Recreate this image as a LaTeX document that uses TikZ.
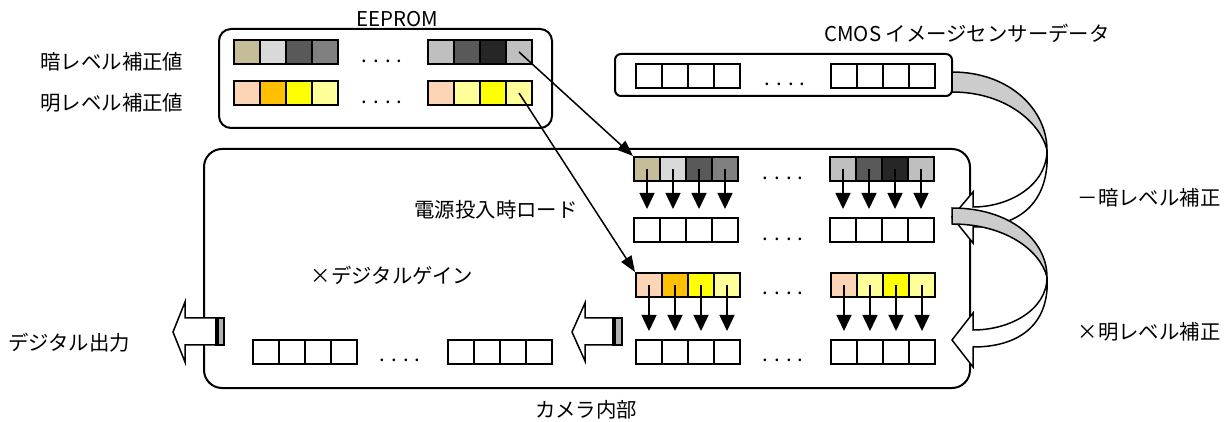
\documentclass[tikz,border=0pt]{standalone}
\usepackage{fontspec}
\setmainfont{Noto Sans CJK JP}
\usetikzlibrary{arrows.meta}
\definecolor{tanC}{HTML}{C4BD97}
\definecolor{ltgrayC}{HTML}{D9D9D9}
\definecolor{dkgrayC}{HTML}{595959}
\definecolor{mdgrayC}{HTML}{808080}
\definecolor{sgrayC}{HTML}{BFBFBF}
\definecolor{blkgrayC}{HTML}{262626}
\definecolor{peachC}{HTML}{FBD5B5}
\definecolor{orangeC}{HTML}{FFC000}
\definecolor{yellowC}{HTML}{FFFF00}
\definecolor{lyellowC}{HTML}{FFFF99}
\definecolor{bandC}{HTML}{CCCCCC}
\newcommand{\cellrow}[4]{%
  \foreach \c [count=\i] in {#4}
    \node[cell,fill=\c] (#1\i) at ({#2+26*(\i-1)},#3) {};}
\begin{document}
\begin{tikzpicture}[x=0.5pt,y=-0.5pt,
  cell/.style={draw,line width=1pt,minimum width=13pt,minimum height=12pt,inner sep=0pt,anchor=north west},
  box/.style={draw,line width=1pt},
  lbl/.style={inner sep=0pt,font=\fontsize{10.2pt}{12pt}\selectfont},
  dots/.style={inner sep=0pt,anchor=base,font=\fontsize{10.2pt}{12pt}\selectfont},
  dnarrow/.style={-{Triangle[width=7.5pt,length=8pt]},line width=0.75pt,shorten >=4pt},
  ldarrow/.style={-{Triangle[width=6pt,length=8pt]},line width=0.75pt},
  blockarr/.style={draw,fill=white,line width=0.75pt},
  bandarr/.style={draw,line width=0.75pt}]
\useasboundingbox (0,0) rectangle (1232,422);
\draw[box,rounded corners=9pt] (204,149) rectangle (970,388);
\draw[box,rounded corners=6pt] (219,29) rectangle (552,128);
\draw[box,rounded corners=3pt] (615,54) rectangle (952,96);
\node[lbl] (eeprom) at (397,19) {EEPROM};
\node[lbl] (cmos) at (967,33) {CMOS イメージセンサーデータ};
\node[lbl] (darkval) at (112,62) {暗レベル補正値};
\node[lbl] (brightval) at (112,103) {明レベル補正値};
\node[lbl] (load) at (496,210) {電源投入時ロード};
\node[lbl] (gain) at (392,275) {×デジタルゲイン};
\node[lbl] (output) at (69,343) {デジタル出力};
\node[lbl] (camera) at (586,410) {カメラ内部};
\node[lbl] (darkcorr) at (1149,198) {－暗レベル補正};
\node[lbl] (brightcorr) at (1149,332) {×明レベル補正};
\cellrow{eda}{233}{39}{tanC,ltgrayC,dkgrayC,mdgrayC}
\cellrow{edb}{427}{39}{sgrayC,dkgrayC,blkgrayC,sgrayC}
\cellrow{eba}{233}{80}{peachC,orangeC,yellowC,lyellowC}
\cellrow{ebb}{427}{80}{peachC,lyellowC,yellowC,lyellowC}
\cellrow{cma}{635}{63}{white,white,white,white}
\cellrow{cmb}{830}{63}{white,white,white,white}
\cellrow{cda}{633}{156}{tanC,ltgrayC,dkgrayC,mdgrayC}
\cellrow{cdb}{829}{156}{sgrayC,dkgrayC,blkgrayC,sgrayC}
\cellrow{cwa}{633}{217}{white,white,white,white}
\cellrow{cwb}{829}{217}{white,white,white,white}
\cellrow{cba}{635}{272}{peachC,orangeC,yellowC,lyellowC}
\cellrow{cbb}{830}{272}{peachC,lyellowC,yellowC,lyellowC}
\cellrow{cva}{635}{339}{white,white,white,white}
\cellrow{cvb}{830}{339}{white,white,white,white}
\cellrow{oua}{252}{339}{white,white,white,white}
\cellrow{oub}{447}{339}{white,white,white,white}
\node[dots] (d1) at (382,63) {. . . .};
\node[dots] (d2) at (382,104) {. . . .};
\node[dots] (d3) at (785,86) {. . . .};
\node[dots] (d4) at (783,180) {. . . .};
\node[dots] (d5) at (783,241) {. . . .};
\node[dots] (d6) at (783,295) {. . . .};
\node[dots] (d7) at (783,362) {. . . .};
\node[dots] (d8) at (400,362) {. . . .};
\foreach \g in {a,b}
  \foreach \i in {1,...,4} {
    \draw[dnarrow] (cd\g\i.center) -- (cw\g\i.north);
    \draw[dnarrow] (cb\g\i.center) -- (cv\g\i.north);
  }
\draw[ldarrow] (edb4.center) -- (cda1.north west);
\draw[ldarrow] (ebb4.center) -- (cba1.north west);
\draw[blockarr] (613,318) -- (585,318) -- (585,303) -- (572,332) -- (585,361) -- (585,345) -- (613,345) -- cycle;
\draw[line width=0.75pt,fill=gray!60] (613,318) rectangle (622,345);
\draw[line width=1.2pt] (615,318) -- (615,345);
\draw[blockarr] (216,318) -- (185,318) -- (185,302) -- (173,332) -- (185,362) -- (185,345) -- (216,345) -- cycle;
\draw[line width=0.75pt,fill=gray!60] (216,318) rectangle (224,345);
\draw[line width=1.2pt] (218,318) -- (218,345);
\draw[bandarr,fill=white] (1047,150) .. controls (1047,185) and (1010,207) .. (973,207) -- (973,192) -- (952,217) -- (973,243) -- (973,227) .. controls (1022,227) and (1050,200) .. (1047,150) -- cycle;
\draw[bandarr,fill=bandC] (952,72) .. controls (1010,72) and (1047,110) .. (1047,150) .. controls (1040,122) and (1005,92) .. (952,92) -- cycle;
\draw[bandarr,fill=white] (1047,277) .. controls (1047,310) and (1010,330) .. (973,330) -- (973,313) -- (952,340) -- (973,367) -- (973,347) .. controls (1022,347) and (1050,322) .. (1047,277) -- cycle;
\draw[bandarr,fill=bandC] (952,208) .. controls (1010,208) and (1047,240) .. (1047,277) .. controls (1040,250) and (1005,224) .. (952,224) -- cycle;
\end{tikzpicture}
\end{document}
